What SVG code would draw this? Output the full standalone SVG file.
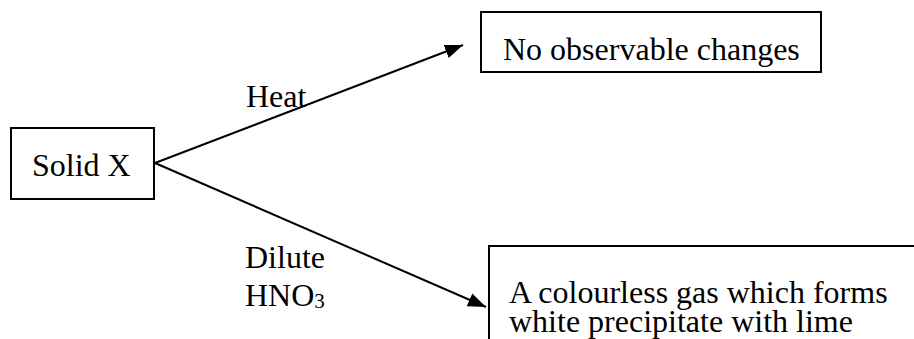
<svg xmlns="http://www.w3.org/2000/svg" width="914" height="339" viewBox="0 0 914 339">
<style>
.box{fill:#fff;stroke:#000;stroke-width:2}
.t{font-size:32px;fill:#000}
.c{stroke:#000;stroke-width:2;fill:none}
</style>
<defs>
<marker id="ah" markerUnits="userSpaceOnUse" markerWidth="20" markerHeight="16" refX="18" refY="7" orient="auto">
<path d="M0,0 L18,7 L0,14 Z" fill="#000"/>
</marker>
</defs>
<rect width="914" height="339" fill="#fff"/>
<g id="connectors">
<line class="c" x1="155" y1="163" x2="463" y2="45" marker-end="url(#ah)"/>
<line class="c" x1="155" y1="163" x2="486" y2="307" marker-end="url(#ah)"/>
</g>
<g id="labels" font-family="'Liberation Serif', 'Times New Roman', 'DejaVu Serif', serif">
<text class="t" x="246" y="107">Heat</text>
<text class="t" x="245" y="268">Dilute</text>
<text class="t" x="245" y="306">HNO<tspan font-size="21" dy="2">3</tspan></text>
</g>
<g id="solidX" font-family="'Liberation Serif', 'Times New Roman', 'DejaVu Serif', serif">
<rect class="box" x="11" y="128" width="143" height="71"/>
<text class="t" x="32" y="176">Solid X</text>
</g>
<g id="noChange" font-family="'Liberation Serif', 'Times New Roman', 'DejaVu Serif', serif">
<rect class="box" x="481" y="12" width="340" height="60"/>
<text class="t" x="503" y="60">No observable changes</text>
</g>
<g id="gas" font-family="'Liberation Serif', 'Times New Roman', 'DejaVu Serif', serif">
<rect class="box" x="489" y="246" width="440" height="110"/>
<text class="t" x="509" y="303">A colourless gas which forms</text>
<text class="t" x="509" y="332">white precipitate with lime</text>
</g>
</svg>
